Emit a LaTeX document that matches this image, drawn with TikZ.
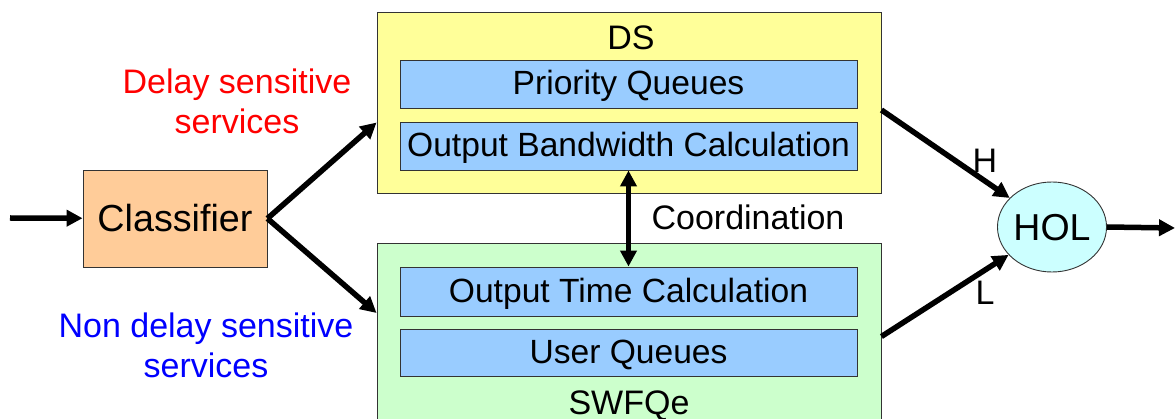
\documentclass[tikz,border=0pt]{standalone}
\usepackage{fontspec}
\setmainfont{Liberation Sans}
\usetikzlibrary{arrows.meta,shapes.geometric}
\definecolor{dsyellow}{HTML}{FFFF99}
\definecolor{swgreen}{HTML}{CCFFCC}
\definecolor{qblue}{HTML}{99CCFF}
\definecolor{clspeach}{HTML}{FFCC99}
\definecolor{holcyan}{HTML}{CCFFFF}
\tikzset{
	txt/.style={font=\fontsize{34}{40}\selectfont,inner sep=0pt},
	blk/.style={draw=black!80,line width=0.9pt,inner sep=0pt},
	subblk/.style={blk,fill=qblue,minimum width=457pt,text height=26pt,text depth=4pt,font=\fontsize{33.6}{40}\selectfont},
	tip/.tip={Triangle[length=16pt,width=16pt]},
	flow/.style={line width=5.5pt,-tip},
}
\begin{document}
\begin{tikzpicture}[x=1pt,y=1pt,yscale=-1,xscale=1]
	\useasboundingbox (0,0) rectangle (1175,419);

	\node (cls) at (175,218.5) [blk,fill=clspeach,minimum width=184pt,minimum height=97pt,font=\fontsize{37.7}{44}\selectfont] {Classifier};
	\node (ds) at (629,102.5) [blk,fill=dsyellow,minimum width=504pt,minimum height=181pt] {};
	\node (sw) at (629,336.5) [blk,fill=swgreen,minimum width=504pt,minimum height=187pt] {};
	\node (pq) at (628.5,84) [subblk,minimum height=48pt] {Priority Queues};
	\node (obc) at (628.5,146) [subblk,minimum height=48pt] {Output Bandwidth Calculation};
	\node (otc) at (628.5,291.5) [subblk,minimum height=49pt] {Output Time Calculation};
	\node (uq) at (628.5,352.5) [subblk,minimum height=47pt] {User Queues};
	\node (hol) at (1052,227) [ellipse,blk,fill=holcyan,minimum width=108pt,minimum height=90pt,text height=27pt,font=\fontsize{37.5}{44}\selectfont] {HOL};

	\node (dslbl) at (631,50) [txt,anchor=base] {DS};
	\node (swlbl) at (629,414) [txt,anchor=base] {SWFQe};
	\node (dsserv) at (237,101) [txt,align=center,text=red] {Delay sensitive\\services};
	\node (ndsserv) at (206,345) [txt,align=center,text=blue] {Non delay sensitive\\services};
	\node (coord) at (748,230) [txt,anchor=base] {Coordination};
	\node (hlbl) at (985,173) [txt,anchor=base] {H};
	\node (llbl) at (985,305) [txt,anchor=base] {L};

	\coordinate (in) at (10,218);
	\coordinate (out) at (1175,228);
	\draw [flow] (in) -- (cls);
	\draw [flow] (cls.east) -- ([yshift=20pt]ds.west);
	\draw [flow] (cls.east) -- ([yshift=-23.5pt]sw.west);
	\draw [flow,tip-tip] (obc.south) -- (otc.north);
	\draw [flow] ([yshift=7.5pt]ds.east) -- (hol);
	\draw [flow] (sw.east) -- (hol);
	\draw [flow] (hol.east) -- (out);
\end{tikzpicture}
\end{document}
